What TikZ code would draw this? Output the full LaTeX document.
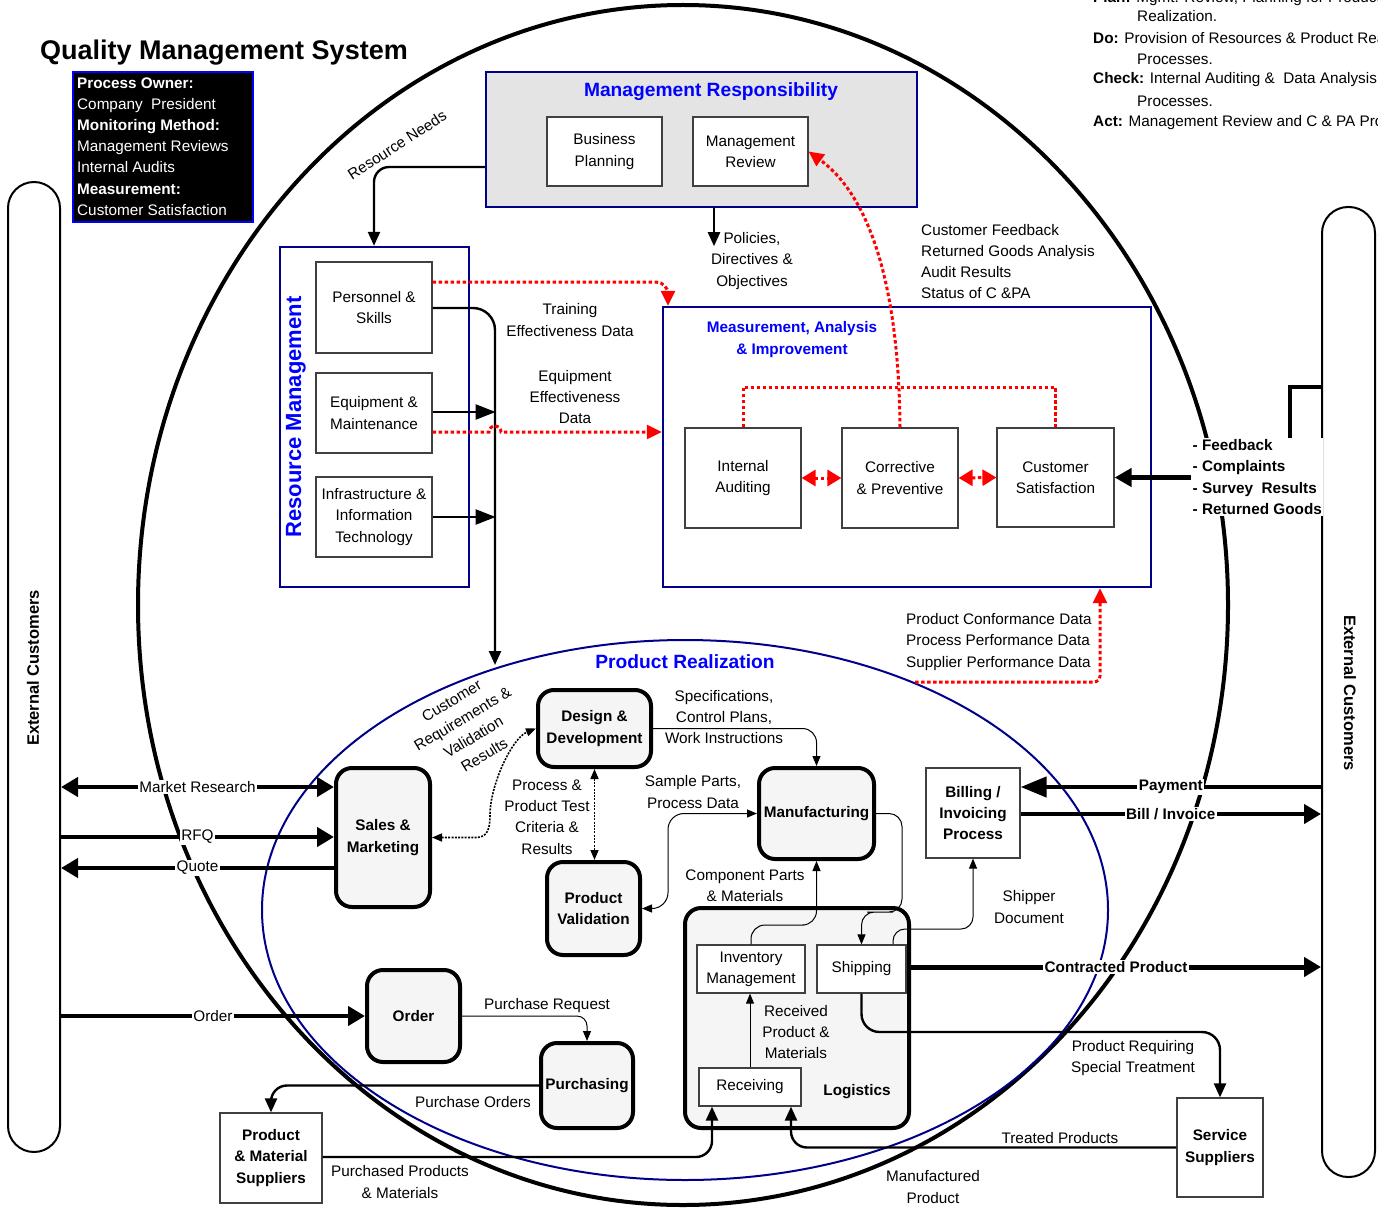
\documentclass[tikz,border=0pt]{standalone}
\usepackage{fontspec}
\setmainfont{Liberation Sans}
\usetikzlibrary{arrows.meta,shapes.geometric}

\definecolor{navy}{HTML}{000088}
\definecolor{headblue}{HTML}{0000FF}
\definecolor{panelgray}{HTML}{E4E4E4}
\definecolor{procfill}{HTML}{F5F5F5}
\definecolor{boxline}{HTML}{404040}
\definecolor{datared}{HTML}{FF0000}

\newcommand{\nf}{\fontsize{15.3}{21.2}\selectfont}

\begin{document}
\begin{tikzpicture}[x=1pt,y=-1pt,
  every node/.style={font=\nf, inner sep=0pt, align=center},
  plainbox/.style={draw=boxline, line width=1.2pt, fill=white},
  procbox/.style={draw=black, line width=4pt, fill=procfill, rounded corners=16pt, font=\nf\bfseries},
  panel/.style={draw=navy, line width=2.4pt},
  lbl/.style={fill=white, inner sep=1.5pt},
  lnheavy/.style={line width=4.4pt},
  lnmed/.style={line width=2.4pt},
  lnthin/.style={line width=1pt},
  reddash/.style={draw=datared, line width=3pt, dash pattern=on 3.5pt off 2.5pt},
  tipH/.style={-{Triangle[length=17pt,width=19pt]}},
  tipHH/.style={{Triangle[length=17pt,width=19pt]}-{Triangle[length=17pt,width=19pt]}},
  tipM/.style={-{Triangle[length=14pt,width=12pt]}},
  tipT/.style={-{Triangle[length=10pt,width=8pt]}},
  tipTT/.style={{Triangle[length=10pt,width=8pt]}-{Triangle[length=10pt,width=8pt]}},
  tipR/.style={-{Triangle[length=15pt,width=14pt]}},
  tipRR/.style={{Triangle[length=14pt,width=16pt]}-{Triangle[length=14pt,width=16pt]}},
  blackdot/.style={line width=1.6pt, dash pattern=on 2pt off 1.3pt},
]
\useasboundingbox (0,0) rectangle (1378,1209);
\clip (0,0) rectangle (1378,1209);

% system boundary and product realization boundary
\node[draw, line width=4pt, ellipse, minimum width=1090pt, minimum height=1200pt] (qms) at (683,605) {};
\node[draw=navy, line width=2pt, ellipse, minimum width=846pt, minimum height=540pt] (prz) at (685,910) {};

% external customers
\node[draw, line width=2pt, rounded corners=26pt, minimum width=52pt, minimum height=970pt] (lcap) at (34,667) {};
\node[font=\fontsize{16.5}{18}\selectfont\bfseries, rotate=90] (lcaptxt) at (33,668) {External Customers};
\node[draw, line width=2pt, rounded corners=26pt, minimum width=53pt, minimum height=970pt] (rcap) at (1348.5,692) {};
\node[font=\fontsize{16.5}{18}\selectfont\bfseries, rotate=-90] (rcaptxt) at (1350,693) {External Customers};

% title and owner block
\node[font=\fontsize{27}{30}\selectfont\bfseries, anchor=west] (title) at (40,53) {Quality Management System};
\node[draw=headblue, line width=1.5pt, fill=black, minimum width=180pt, minimum height=150pt] (owner) at (163,147) {};
\node[anchor=west, align=left, text=white] (ownertxt) at (77,146.5) {\textbf{Process Owner:}\\Company\ \ President\\\textbf{Monitoring Method:}\\Management Reviews\\Internal Audits\\\textbf{Measurement:}\\Customer Satisfaction};

% PDCA notes
\node[anchor=west] (pdca1) at (1093,-1) {\textbf{Plan:} Mgmt. Review, Planning for Product};
\node[anchor=west] (pdca2) at (1137,16) {Realization.};
\node[anchor=west] (pdca3) at (1093,38) {\textbf{Do:} Provision of Resources \& Product Realization};
\node[anchor=west] (pdca4) at (1137,59) {Processes.};
\node[anchor=west] (pdca5) at (1093,80) {\textbf{Check:} Internal Auditing \&\ \ Data Analysis};
\node[anchor=west] (pdca6) at (1137,101) {Processes.};
\node[anchor=west] (pdca7) at (1093,123) {\textbf{Act:} Management Review and C \& PA Processes.};

% management responsibility
\node[panel, fill=panelgray, minimum width=431pt, minimum height=135pt] (mr) at (701.5,139.5) {};
\node[font=\fontsize{19.2}{22}\selectfont\bfseries, text=headblue] (mrtitle) at (711,92) {Management Responsibility};
\node[plainbox, minimum width=115pt, minimum height=69pt] (bp) at (604.5,151.5) {Business\\Planning};
\node[plainbox, minimum width=115pt, minimum height=69pt] (mrev) at (750.5,151.5) {Management\\Review};

% resource management
\node[panel, fill=white, minimum width=189pt, minimum height=340pt] (rm) at (374.5,417) {};
\node[font=\fontsize{22}{24}\selectfont\bfseries, text=headblue, rotate=90] (rmtitle) at (296,417) {Resource Management};
\node[plainbox, minimum width=116pt, minimum height=91pt] (pers) at (374,307.5) {Personnel \&\\Skills};
\node[plainbox, minimum width=116pt, minimum height=80pt] (equip) at (374,413) {Equipment \&\\Maintenance};
\node[plainbox, minimum width=116pt, minimum height=80pt] (infra) at (374,517) {Infrastructure \&\\Information\\Technology};

% measurement, analysis and improvement
\node[panel, fill=white, minimum width=488pt, minimum height=280pt] (mai) at (907,447) {};
\node[font=\fontsize{15.3}{22}\selectfont\bfseries, text=headblue] (maititle) at (792,340) {Measurement, Analysis\\\& Improvement};
\node[plainbox, minimum width=116pt, minimum height=100pt] (ia) at (743,478) {Internal\\Auditing};
\node[plainbox, minimum width=116pt, minimum height=100pt] (cp) at (900,478) {Corrective\\\& Preventive};
\node[plainbox, minimum width=117pt, minimum height=99pt] (cs) at (1055.5,477.5) {Customer\\Satisfaction};

% product realization processes
\node[font=\fontsize{19.2}{22}\selectfont\bfseries, text=headblue] (prtitle) at (685,662) {Product Realization};
\node[procbox, minimum width=94pt, minimum height=139pt] (sales) at (383,837.5) {Sales \&\\Marketing};
\node[procbox, minimum width=113pt, minimum height=77pt] (design) at (594.5,728.5) {Design \&\\Development};
\node[procbox, minimum width=115pt, minimum height=91pt] (manu) at (816.5,813.5) {Manufacturing};
\node[procbox, minimum width=93pt, minimum height=93pt] (pv) at (593.5,908.5) {Product\\Validation};
\node[procbox, minimum width=93pt, minimum height=92pt] (order) at (413.5,1016) {Order};
\node[procbox, minimum width=92pt, minimum height=85pt] (purch) at (587,1085.5) {Purchasing};
\node[procbox, minimum width=224pt, minimum height=220pt] (logi) at (797,1018) {};
\node[plainbox, minimum width=108pt, minimum height=48pt] (inv) at (751,969) {Inventory\\Management};
\node[plainbox, minimum width=89pt, minimum height=48pt] (ship) at (861.5,969) {Shipping};
\node[plainbox, minimum width=102pt, minimum height=38pt] (recv) at (750,1087) {Receiving};
\node[font=\nf\bfseries] (logititle) at (857,1092) {Logistics};
\node[plainbox, font=\nf\bfseries, minimum width=94pt, minimum height=90pt] (bill) at (973,813) {Billing /\\Invoicing\\Process};
\node[plainbox, font=\nf\bfseries, minimum width=102pt, minimum height=90pt] (pms) at (271,1158) {Product\\\& Material\\Suppliers};
\node[plainbox, font=\nf\bfseries, minimum width=86pt, minimum height=99pt] (ss) at (1220,1147.5) {Service\\Suppliers};

% points on the product realization boundary
\coordinate (przin) at (495,665);
\coordinate (przout) at (915,682);

% resource flows
\draw[lnmed, tipM, rounded corners=15pt] (mr.west |- 0,167) -- (374,167) -- (rm.north -| 374,0);
\draw[lnmed, tipM, rounded corners=22pt] (pers.east |- 0,308) -- (495,308) -- (przin);
\draw[lnmed, -{Triangle[length=20pt,width=15pt]}] (equip.east |- 0,412) -- ++(63,0);
\draw[lnmed, -{Triangle[length=20pt,width=15pt]}] (infra.east) -- ++(63,0);
\draw[lnmed, tipM] (mr.south -| 714,0) -- ++(0,38);

% measurement data (red)
\draw[reddash, tipR, rounded corners=12pt] (pers.east |- 0,282) -- (668,282) -- (mai.north -| 668,0);
\draw[reddash, tipR] (equip.east |- 0,432) -- (489,432) arc[start angle=180, end angle=360, radius=6] -- (mai.west |- 0,432);
\draw[reddash, tipR] (cp.north) .. controls (899,300) and (875,200) .. (mrev.east);
\draw[reddash] (ia.north) |- (900,387) -| (cs.north);
\draw[reddash, tipRR] (ia.east) -- (cp.west);
\draw[reddash, tipRR] (cp.east) -- (cs.west);
\draw[reddash, tipR, rounded corners=6pt] (przout) -- (1100,682) -- (mai.south -| 1100,0);

% customer feedback
\node[lbl, anchor=west, align=left, font=\nf\bfseries] (fb) at (1191,477) {- Feedback\\- Complaints\\- Survey\ \ Results\\- Returned Goods};
\draw[lnheavy, -{Triangle[length=17pt,width=18pt]}] (fb.west |- cs.east) -- (cs.east);
\draw[lnheavy] (rcap.west |- 0,387) -| (fb.north -| 1290,0);

% customer interface
\draw[lnheavy, tipHH] (lcap.east |- 0,787) -- (sales.west |- 0,787) node[lbl, midway] (lmr) {Market Research};
\draw[lnheavy, tipH] (lcap.east |- 0,837) -- (sales.west |- 0,837) node[lbl, midway] (lrfq) {RFQ};
\draw[lnheavy, tipH] (sales.west |- 0,868) -- (lcap.east |- 0,868) node[lbl, midway] (lquote) {Quote};
\draw[lnheavy, tipH] (lcap.east |- 0,1016) -- (order.west) node[lbl, midway] (lorder) {Order};
\draw[lnheavy, -{Triangle[length=26pt,width=20pt]}] (rcap.west |- 0,787) -- (bill.east |- 0,787) node[lbl, font=\nf\bfseries, midway] (lpay) {Payment};
\draw[lnheavy, tipH] (bill.east |- 0,814) -- (rcap.west |- 0,814) node[lbl, font=\nf\bfseries, midway] (lbill) {Bill / Invoice};
\draw[line width=5pt, tipH] (logi.east |- 0,967) -- (rcap.west |- 0,967) node[lbl, font=\nf\bfseries, midway] (lcon) {Contracted Product};

% internal product flows
\draw[blackdot, tipTT] (sales.east) -- (476,837.5) .. controls (488,837.5) and (490,828) .. (490,815) .. controls (490,785) and (512,738) .. (design.west);
\draw[blackdot, tipTT] (design.south) -- (design.south |- pv.north);
\draw[lnthin, tipTT, rounded corners=16pt] (pv.east) -| (668,860) |- (manu.west);
\draw[lnthin, tipT, rounded corners=14pt] (design.east) -| (manu.north);
\draw[lnthin, tipT, rounded corners=14pt] (inv.north) |- (790,925) -| (manu.south);
\draw[lnthin, tipT, rounded corners=13pt] (manu.east) -| (902,870) |- (880,912) -| (ship.north);
\draw[lnthin, tipT, rounded corners=12pt] (ship.north -| 893,0) |- (940,929) -| (bill.south);
\draw[lnthin, tipT, rounded corners=10pt] (order.east) -| (purch.north);
\draw[lnmed, tipM, rounded corners=16pt] (purch.west) -| (pms.north);
\draw[lnmed, tipM, rounded corners=16pt] (pms.east |- 0,1157) -| (recv.south -| 712,0);
\draw[lnthin, tipT] (recv.north) -- (recv.north |- inv.south);
\draw[lnmed, tipM, rounded corners=18pt] (ship.south) |- (1000,1032) -| (ss.north);
\draw[lnmed, tipM, rounded corners=16pt] (ss.west) -| (recv.south -| 791,0);

% flow labels
\node[rotate=33] (lneeds) at (397,145) {Resource Needs};
\node (ltrain) at (570,320) {Training\\Effectiveness Data};
\node (lequip) at (575,397) {Equipment\\Effectiveness\\Data};
\node (lpol) at (752,261) {Policies,\\Directives \&\\Objectives};
\node[anchor=west, align=left] (lfeed) at (921,261.5) {Customer Feedback\\Returned Goods Analysis\\Audit Results\\Status of C \&PA};
\node[anchor=west, align=left] (lconf) at (906,642) {Product Conformance Data\\Process Performance Data\\Supplier Performance Data};
\node[rotate=31] (lcustreq) at (468,728) {Customer\\Requirements \&\\Validation\\Results};
\node (lspec) at (724,717) {Specifications,\\Control Plans,\\Work Instructions};
\node (ltest) at (547,817) {Process \&\\Product Test\\Criteria \&\\Results};
\node (lsample) at (693,792) {Sample Parts,\\Process Data};
\node (lcomp) at (745,886) {Component Parts\\\& Materials};
\node (lshipdoc) at (1029,907) {Shipper\\Document};
\node (lrecv) at (796,1032) {Received\\Product \&\\Materials};
\node (lpreq) at (547,1006) {Purchase Request};
\node (lpord) at (473,1102) {Purchase Orders};
\node (lpprod) at (400,1182) {Purchased Products\\\& Materials};
\node (lspecial) at (1133,1058) {Product Requiring\\Special Treatment};
\node (ltreated) at (1060,1138) {Treated Products};
\node (lmanuf) at (933,1187) {Manufactured\\Product};
\end{tikzpicture}
\end{document}
